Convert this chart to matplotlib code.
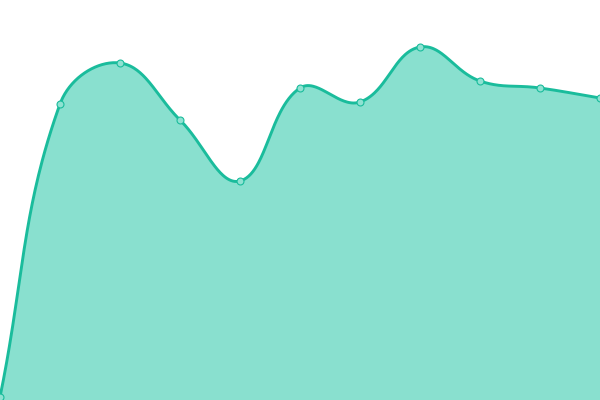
import numpy as np
import matplotlib
matplotlib.use("Agg")
import matplotlib.pyplot as plt

categories = list(range(11))
values = [3, 296, 337, 280, 219, 312, 298, 353, 319, 312, 302]

LINE = "#1abc9c"
FILL = "#89e0cf"
MARKER_FILL = "#8fe2d2"
TENSION = 0.4

fig = plt.figure(figsize=(6, 4), dpi=100)
ax = fig.add_axes([0, 0, 1, 1])
ax.set_xlim(0, 10)
ax.set_ylim(0, 400)
ax.axis("off")

# work in display (pixel) space for Chart.js-like spline
pts = ax.transData.transform(np.column_stack([categories, values]))
n = len(pts)
cps_prev = []
cps_next = []
for i in range(n):
    cur = pts[i]
    prev = pts[i - 1] if i > 0 else cur
    nxt = pts[i + 1] if i < n - 1 else cur
    d01 = np.hypot(*(cur - prev))
    d12 = np.hypot(*(nxt - cur))
    tot = d01 + d12
    s01 = d01 / tot if tot else 0
    s12 = d12 / tot if tot else 0
    fa = TENSION * s01
    fb = TENSION * s12
    cps_prev.append(cur - fa * (nxt - prev))
    cps_next.append(cur + fb * (nxt - prev))

curve = [pts[0]]
t = np.linspace(0, 1, 60)[1:, None]
for i in range(n - 1):
    p0, p1, p2, p3 = pts[i], cps_next[i], cps_prev[i + 1], pts[i + 1]
    seg = ((1 - t) ** 3) * p0 + 3 * ((1 - t) ** 2) * t * p1 + 3 * (1 - t) * t ** 2 * p2 + t ** 3 * p3
    curve.extend(seg)
curve = np.array(curve)
data_curve = ax.transData.inverted().transform(curve)

ax.fill_between(data_curve[:, 0], data_curve[:, 1], 0, color=FILL, lw=0, zorder=1)
ax.plot(data_curve[:, 0], data_curve[:, 1], color=LINE, lw=2.1, zorder=2, clip_on=True)
ax.plot(categories, values, "o", ms=5.0, mfc=MARKER_FILL, mec=LINE, mew=0.8, zorder=3, clip_on=True)

fig.savefig("out.png", dpi=100)
